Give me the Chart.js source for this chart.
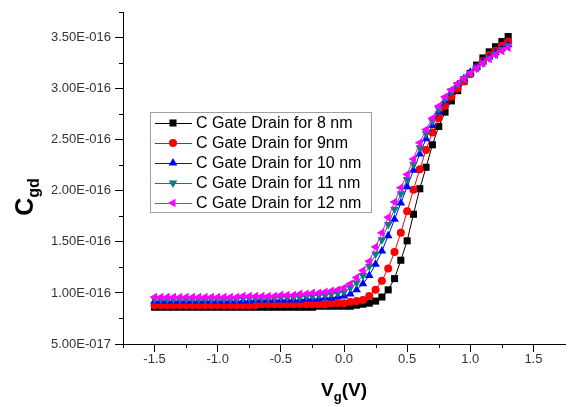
<!DOCTYPE html>
<html>
<head>
<meta charset="utf-8">
<script src="https://cdn.jsdelivr.net/npm/chart.js@4.4.1/dist/chart.umd.min.js"></script>
<style>
  html, body { margin: 0; padding: 0; background: #fff; }
  #wrap { width: 570px; height: 407px; }
</style>
</head>
<body>
<div id="wrap"><canvas id="cgdChart" width="570" height="407"></canvas></div>
<script>
// gate voltage (V)
const vg = [
  -1.5, -1.45, -1.4, -1.35, -1.3, -1.25, -1.2, -1.15, -1.1, -1.05,
  -1.0, -0.95, -0.9, -0.85, -0.8, -0.75, -0.7, -0.65, -0.6, -0.55,
  -0.5, -0.45, -0.4, -0.35, -0.3, -0.25, -0.2, -0.15, -0.1, -0.05,
  0.0, 0.05, 0.1, 0.15, 0.2, 0.25, 0.3, 0.35, 0.4, 0.45,
  0.5, 0.55, 0.6, 0.65, 0.7, 0.75, 0.8, 0.85, 0.9, 0.95,
  1.0, 1.05, 1.1, 1.15, 1.2, 1.25, 1.3
];

// C gate-drain, in units of 1E-016 F
const cgd8 = [
  0.86, 0.86, 0.86, 0.86, 0.86, 0.86, 0.86, 0.86, 0.86, 0.86,
  0.86, 0.86, 0.86, 0.86, 0.86, 0.86, 0.86, 0.86, 0.86, 0.86,
  0.86, 0.86, 0.86, 0.86, 0.86, 0.86, 0.87, 0.87, 0.87, 0.87,
  0.87, 0.87, 0.88, 0.89, 0.90, 0.92, 0.96, 1.03, 1.14, 1.32,
  1.51, 1.77, 2.02, 2.23, 2.45, 2.63, 2.77, 2.88, 2.98, 3.07,
  3.15, 3.23, 3.30, 3.36, 3.41, 3.46, 3.51
];
const cgd9 = [
  0.88, 0.88, 0.88, 0.88, 0.88, 0.88, 0.88, 0.88, 0.88, 0.88,
  0.88, 0.88, 0.88, 0.88, 0.88, 0.88, 0.88, 0.89, 0.89, 0.89,
  0.89, 0.89, 0.89, 0.89, 0.89, 0.89, 0.89, 0.89, 0.90, 0.90,
  0.90, 0.91, 0.92, 0.93, 0.97, 1.03, 1.12, 1.24, 1.40, 1.59,
  1.80, 2.01, 2.21, 2.40, 2.57, 2.71, 2.83, 2.92, 3.00, 3.07,
  3.14, 3.21, 3.27, 3.33, 3.37, 3.42, 3.46
];
const cgd10 = [
  0.92, 0.92, 0.92, 0.92, 0.92, 0.92, 0.92, 0.92, 0.92, 0.92,
  0.92, 0.92, 0.92, 0.92, 0.92, 0.92, 0.93, 0.93, 0.93, 0.93,
  0.93, 0.93, 0.93, 0.93, 0.94, 0.94, 0.94, 0.95, 0.95, 0.96,
  0.97, 0.99, 1.03, 1.09, 1.17, 1.28, 1.41, 1.56, 1.72, 1.88,
  2.04, 2.20, 2.36, 2.51, 2.64, 2.77, 2.88, 2.97, 3.04, 3.10,
  3.16, 3.21, 3.26, 3.31, 3.35, 3.39, 3.43
];
const cgd11 = [
  0.94, 0.94, 0.94, 0.94, 0.94, 0.94, 0.94, 0.94, 0.94, 0.94,
  0.94, 0.94, 0.94, 0.94, 0.95, 0.95, 0.95, 0.95, 0.95, 0.95,
  0.96, 0.96, 0.96, 0.96, 0.97, 0.97, 0.98, 0.98, 0.99, 1.00,
  1.01, 1.05, 1.10, 1.17, 1.26, 1.38, 1.52, 1.67, 1.82, 1.97,
  2.11, 2.26, 2.42, 2.56, 2.68, 2.80, 2.90, 2.98, 3.04, 3.10,
  3.15, 3.20, 3.25, 3.30, 3.34, 3.38, 3.42
];
const cgd12 = [
  0.96, 0.96, 0.96, 0.96, 0.96, 0.96, 0.96, 0.96, 0.96, 0.96,
  0.96, 0.96, 0.96, 0.96, 0.97, 0.97, 0.97, 0.97, 0.97, 0.97,
  0.98, 0.98, 0.98, 0.99, 0.99, 1.00, 1.00, 1.01, 1.02, 1.03,
  1.05, 1.09, 1.15, 1.22, 1.31, 1.45, 1.59, 1.74, 1.89, 2.03,
  2.16, 2.31, 2.47, 2.60, 2.71, 2.83, 2.92, 2.99, 3.05, 3.10,
  3.15, 3.20, 3.25, 3.29, 3.33, 3.37, 3.40
];

const seriesNames = [
  'C Gate Drain for 8 nm',
  'C Gate Drain for 9nm',
  'C Gate Drain for 10 nm',
  'C Gate Drain for 11 nm',
  'C Gate Drain for 12 nm'
];

const xTicks = [-1.5, -1.0, -0.5, 0.0, 0.5, 1.0, 1.5];
const xTickLabels = ['-1.5', '-1.0', '-0.5', '0.0', '0.5', '1.0', '1.5'];
const xMinor = [-1.75, -1.25, -0.75, -0.25, 0.25, 0.75, 1.25];
const yTicks = [0.5, 1.0, 1.5, 2.0, 2.5, 3.0, 3.5];
const yTickLabels = ['5.00E-017', '1.00E-016', '1.50E-016', '2.00E-016', '2.50E-016', '3.00E-016', '3.50E-016'];
const yMinor = [0.75, 1.25, 1.75, 2.25, 2.75, 3.25, 3.75];

const styles = [
  { color: '#000000', pointStyle: 'rect', radius: 5, rotation: 0 },
  { color: '#ff0000', pointStyle: 'circle', radius: 4, rotation: 0 },
  { color: '#0000ff', pointStyle: 'triangle', radius: 5, rotation: 0 },
  { color: '#008080', pointStyle: 'triangle', radius: 5, rotation: 180 },
  { color: '#ff00ff', pointStyle: 'triangle', radius: 5, rotation: -90 }
];

const allSeries = [cgd8, cgd9, cgd10, cgd11, cgd12];
const font = "'Liberation Sans', Arial, sans-serif";

const datasets = allSeries.map((vals, i) => ({
  label: seriesNames[i],
  data: vals.map((v, j) => ({ x: vg[j], y: v })),
  borderColor: styles[i].color,
  backgroundColor: styles[i].color,
  borderWidth: 1,
  pointStyle: styles[i].pointStyle,
  pointRadius: styles[i].radius,
  pointRotation: styles[i].rotation,
  pointBorderWidth: 0,
  order: 5 - i
}));

function findIndex(arr, v) {
  return arr.findIndex(t => Math.abs(t - v) < 1e-9);
}

// short minor ticks, axis titles and the boxed legend
const extras = {
  id: 'extras',
  afterDraw(chart) {
    const ctx = chart.ctx;
    const ca = chart.chartArea;
    const xs = chart.scales.x, ys = chart.scales.y;
    ctx.save();
    ctx.strokeStyle = '#000';
    ctx.lineWidth = 1;
    ctx.beginPath();
    yMinor.forEach(v => {
      const p = Math.round(ys.getPixelForValue(v)) + 0.5;
      ctx.moveTo(ca.left - 4, p); ctx.lineTo(ca.left, p);
    });
    xMinor.forEach(v => {
      const p = Math.round(xs.getPixelForValue(v)) + 0.5;
      ctx.moveTo(p, ca.bottom); ctx.lineTo(p, ca.bottom + 4);
    });
    ctx.stroke();

    // x title: Vg(V)
    ctx.fillStyle = '#000';
    ctx.textBaseline = 'alphabetic';
    ctx.textAlign = 'left';
    const big = 'bold 19px ' + font, small = 'bold 13px ' + font;
    ctx.font = big; const wV = ctx.measureText('V').width; const wP = ctx.measureText('(V)').width;
    ctx.font = small; const wg = ctx.measureText('g').width;
    let x0 = (ca.left + ca.right) / 2 - (wV + wg + wP) / 2;
    const by = 396;
    ctx.font = big; ctx.fillText('V', x0, by);
    ctx.font = small; ctx.fillText('g', x0 + wV, by + 5);
    ctx.font = big; ctx.fillText('(V)', x0 + wV + wg, by);

    // y title: Cgd
    ctx.translate(33, 197);
    ctx.rotate(-Math.PI / 2);
    const bigY = 'bold 25px ' + font, smallY = 'bold 16px ' + font;
    ctx.font = bigY; const wC = ctx.measureText('C').width;
    ctx.font = smallY; const wgd = ctx.measureText('gd').width;
    const sx = -(wC + wgd) / 2;
    ctx.font = bigY; ctx.fillText('C', sx, 0);
    ctx.font = smallY; ctx.fillText('gd', sx + wC, 6);
    ctx.restore();

    // legend
    ctx.save();
    const lx = 150, ly = 112, lw = 221, lh = 100;
    ctx.fillStyle = '#fff';
    ctx.fillRect(lx, ly, lw, lh);
    ctx.strokeStyle = '#a0a0a0';
    ctx.lineWidth = 1;
    ctx.strokeRect(lx + 0.5, ly + 0.5, lw, lh);
    ctx.font = '16px ' + font;
    ctx.textBaseline = 'middle';
    seriesNames.forEach((name, i) => {
      const y = ly + 11 + i * 20;
      const st = styles[i];
      ctx.strokeStyle = st.color;
      ctx.lineWidth = 1;
      ctx.beginPath();
      ctx.moveTo(lx + 5, y + 0.5); ctx.lineTo(lx + 42, y + 0.5);
      ctx.stroke();
      ctx.fillStyle = st.color;
      Chart.helpers.drawPoint(ctx, { pointStyle: st.pointStyle, radius: st.radius, rotation: st.rotation, borderWidth: 0 }, lx + 23, y);
      ctx.fillStyle = '#000';
      ctx.fillText(name, lx + 46, y + 1);
    });
    ctx.restore();
  }
};

new Chart(document.getElementById('cgdChart'), {
  type: 'line',
  data: { datasets },
  options: {
    responsive: false,
    animation: false,
    layout: { padding: { top: 12, right: 0, left: 0, bottom: 0 } },
    plugins: { legend: { display: false }, tooltip: { enabled: false } },
    scales: {
      x: {
        type: 'linear',
        min: -1.75,
        max: 1.75,
        afterBuildTicks: s => { s.ticks = xTicks.map(v => ({ value: v })); },
        afterFit: s => { s.height = 63; },
        ticks: {
          autoSkip: false,
          maxRotation: 0,
          padding: 0,
          color: '#333',
          font: { family: font, size: 13 },
          callback: v => { const k = findIndex(xTicks, v); return k >= 0 ? xTickLabels[k] : ''; }
        },
        grid: { drawOnChartArea: false, drawTicks: true, tickLength: 8, tickColor: '#000', tickWidth: 1 },
        border: { display: true, color: '#000', width: 1 }
      },
      y: {
        type: 'linear',
        min: 0.5,
        max: 3.75,
        afterBuildTicks: s => { s.ticks = yTicks.map(v => ({ value: v })); },
        afterFit: s => { s.width = 123; },
        ticks: {
          autoSkip: false,
          padding: 4,
          color: '#333',
          font: { family: font, size: 13 },
          callback: v => { const k = findIndex(yTicks, v); return k >= 0 ? yTickLabels[k] : ''; }
        },
        grid: { drawOnChartArea: false, drawTicks: true, tickLength: 8, tickColor: '#000', tickWidth: 1 },
        border: { display: true, color: '#000', width: 1 }
      }
    }
  },
  plugins: [extras]
});
</script>
</body>
</html>
